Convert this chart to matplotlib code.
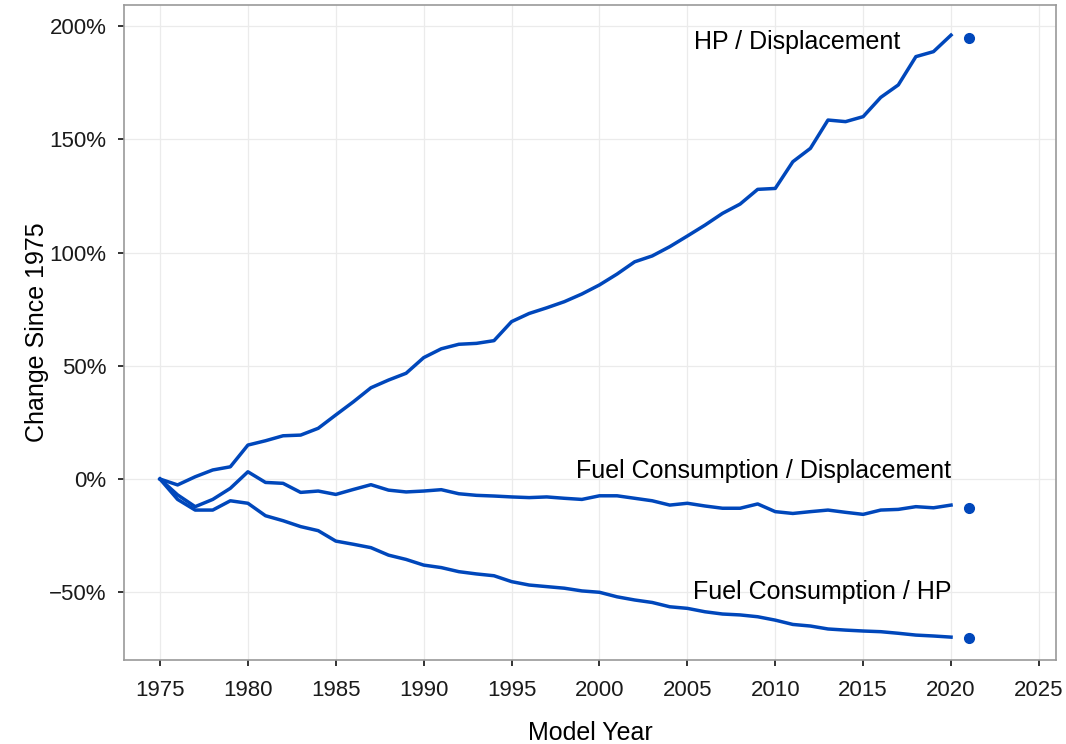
import matplotlib
matplotlib.use("Agg")
import matplotlib.pyplot as plt
from matplotlib.ticker import FuncFormatter

plt.rcParams['font.family'] = ['Liberation Sans', 'DejaVu Sans']

years = list(range(1975, 2021))

hp_disp = [0, -2.6, 1.0, 4.0, 5.4, 15.0, 16.9, 19.1, 19.4, 22.4,
           28.3, 34.1, 40.3, 43.7, 46.7, 53.6, 57.5, 59.5, 59.9, 61.1,
           69.5, 73.1, 75.6, 78.3, 81.7, 85.7, 90.5, 95.9, 98.5, 102.6,
           107.3, 112.1, 117.3, 121.4, 127.9, 128.3, 140.1, 146.0, 158.5, 157.8,
           160.0, 168.5, 174.0, 186.5, 188.7, 196.0]

fc_disp = [0, -7.0, -12.2, -9.0, -4.1, 3.2, -1.5, -1.9, -5.9, -5.3,
           -6.8, -4.6, -2.5, -4.9, -5.7, -5.3, -4.7, -6.5, -7.2, -7.5,
           -7.9, -8.2, -7.9, -8.5, -9.0, -7.4, -7.4, -8.5, -9.6, -11.5,
           -10.7, -11.9, -12.9, -12.9, -11.0, -14.4, -15.2, -14.4, -13.7, -14.7,
           -15.6, -13.7, -13.4, -12.2, -12.7, -11.5]

fc_hp = [0, -9.0, -13.7, -13.7, -9.6, -10.7, -16.2, -18.4, -21.0, -22.8,
         -27.4, -28.8, -30.3, -33.6, -35.5, -38.0, -39.1, -40.9, -41.9, -42.7,
         -45.3, -46.8, -47.5, -48.2, -49.4, -50.0, -52.0, -53.4, -54.5, -56.4,
         -57.1, -58.6, -59.6, -60.0, -60.8, -62.3, -64.2, -64.9, -66.2, -66.7,
         -67.1, -67.4, -68.1, -68.9, -69.3, -69.8]

# single 2021 preliminary values shown as dots
point_year = 2021
hp_disp_2021 = 194.6
fc_disp_2021 = -13.0
fc_hp_2021 = -70.0

labels = ['HP / Displacement', 'Fuel Consumption / Displacement', 'Fuel Consumption / HP']
label_x = [2017.1, 2020.0, 2020.0]
label_y = [193.0, 3.5, -49.8]

blue = '#0047BB'

fig = plt.figure(figsize=(10.66, 7.44), dpi=100)
ax = fig.add_axes([0.1163, 0.1129, 0.8743, 0.8804])

for series, pt in [(hp_disp, hp_disp_2021), (fc_disp, fc_disp_2021), (fc_hp, fc_hp_2021)]:
    ax.plot(years, series, color=blue, linewidth=2.5, solid_joinstyle='round', zorder=3)
    ax.plot([point_year], [pt], 'o', color=blue, markersize=7, zorder=3)

for txt, lx, ly in zip(labels, label_x, label_y):
    ax.text(lx, ly, txt, ha='right', va='center', fontsize=18, color='black')

ax.set_xlim(1972.95, 2025.97)
ax.set_ylim(-79.9, 209.3)
ax.set_xticks(range(1975, 2026, 5))
ax.set_yticks([-50, 0, 50, 100, 150, 200])
ax.yaxis.set_major_formatter(FuncFormatter(lambda v, p: f"{v:.0f}%".replace('-', '\u2212')))

ax.grid(True, color='#ebebeb', linewidth=0.9)
ax.set_axisbelow(True)
for s in ax.spines.values():
    s.set_color('#9a9a9a')
    s.set_linewidth(1.2)
ax.tick_params(axis='both', length=4.5, width=1.4, color='#333333', labelsize=16,
               labelcolor='#1a1a1a')
ax.tick_params(axis='y', pad=8)
ax.tick_params(axis='x', pad=10)

ax.set_xlabel('Model Year', fontsize=18, labelpad=14)
ax.set_ylabel('Change Since 1975', fontsize=18, labelpad=0)

fig.savefig('out.png', dpi=100)
